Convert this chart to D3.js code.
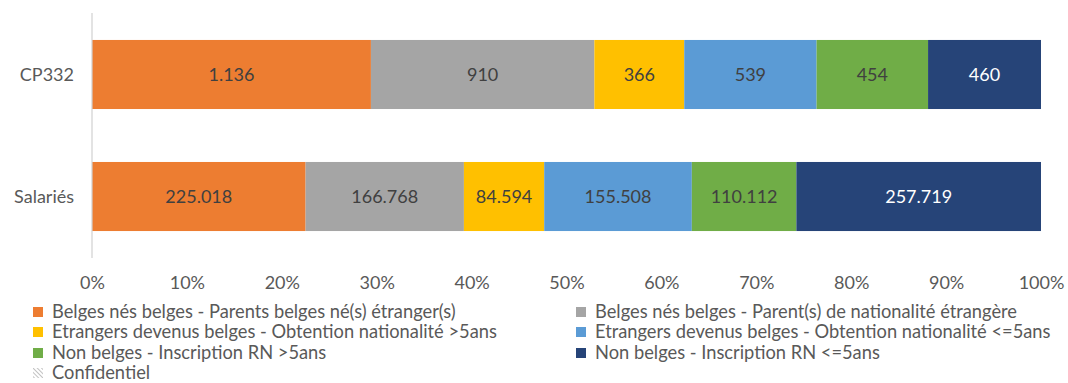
<!DOCTYPE html>
<html>
<head>
<meta charset="utf-8">
<script src="https://cdn.jsdelivr.net/npm/d3@7"></script>
<style>
  body { margin: 0; background: #fff; }
  svg { display: block; font-family: Lato, "Open Sans", sans-serif; }
</style>
</head>
<body>
<svg id="chart" width="1068" height="383"></svg>
<script>
// Categories (top to bottom)
const categories = ["CP332", "Salariés"];

// Series names, in stacking order
const seriesNames = [
  "Belges nés belges - Parents belges né(s) étranger(s)",
  "Belges nés belges - Parent(s) de nationalité étrangère",
  "Etrangers devenus belges - Obtention nationalité >5ans",
  "Etrangers devenus belges - Obtention nationalité <=5ans",
  "Non belges - Inscription RN >5ans",
  "Non belges - Inscription RN <=5ans"
];

// Counts per series, one value per category
const belgesParentsBelges   = [1136, 225018];
const belgesParentsEtranger = [910, 166768];
const etrangersPlus5        = [366, 84594];
const etrangersMoins5       = [539, 155508];
const nonBelgesPlus5        = [454, 110112];
const nonBelgesMoins5       = [460, 257719];

const tickLabels = ["0%", "10%", "20%", "30%", "40%", "50%", "60%", "70%", "80%", "90%", "100%"];
const confidentialLabel = "Confidentiel";

const seriesValues = [belgesParentsBelges, belgesParentsEtranger, etrangersPlus5,
                      etrangersMoins5, nonBelgesPlus5, nonBelgesMoins5];
const colors = ["#ED7D31", "#A5A5A5", "#FFC000", "#5B9BD5", "#70AD47", "#264478"];
const labelColors = ["#404040", "#404040", "#404040", "#404040", "#404040", "#ffffff"];

// Table of shares per category
const rows = categories.map((c, i) => {
  const row = { cat: c };
  const total = d3.sum(seriesValues, s => s[i]);
  seriesNames.forEach((n, j) => { row[n] = seriesValues[j][i] / total; row["raw" + j] = seriesValues[j][i]; });
  return row;
});
const stacked = d3.stack().keys(seriesNames)(rows);

const svg = d3.select("#chart");
const plotLeft = 92, plotRight = 1041, plotTop = 13, plotBottom = 258;
const fontSize = 18;

const x = d3.scaleLinear().domain([0, 1]).range([plotLeft, plotRight]);
const y = d3.scaleBand().domain(categories).range([plotTop, plotBottom])
  .paddingInner(0.434).paddingOuter(0.221);

// Hatch pattern for the confidential entry
const defs = svg.append("defs");
const pat = defs.append("pattern").attr("id", "hatch").attr("patternUnits", "userSpaceOnUse")
  .attr("width", 3).attr("height", 3).attr("patternTransform", "rotate(-45)");
pat.append("line").attr("x1", 0).attr("y1", 0).attr("x2", 0).attr("y2", 3)
  .attr("stroke", "#a0a0a0").attr("stroke-width", 1.3);

// Bars
const layer = svg.append("g").selectAll("g").data(stacked).join("g")
  .attr("fill", (d, i) => colors[i]);
layer.selectAll("rect").data(d => d).join("rect")
  .attr("x", d => x(d[0]))
  .attr("y", d => y(d.data.cat))
  .attr("width", d => x(d[1]) - x(d[0]))
  .attr("height", y.bandwidth());

// Value labels (Belgian thousands separator)
const fmt = d3.formatLocale({ decimal: ",", thousands: ".", grouping: [3], currency: ["", "€"] }).format(",d");
stacked.forEach((s, j) => {
  svg.append("g").selectAll("text").data(s).join("text")
    .attr("x", d => (x(d[0]) + x(d[1])) / 2)
    .attr("y", d => y(d.data.cat) + y.bandwidth() / 2)
    .attr("dy", "0.35em")
    .attr("text-anchor", "middle")
    .attr("font-size", fontSize)
    .attr("fill", labelColors[j])
    .text(d => fmt(d.data["raw" + j]));
});

// Vertical axis line and category labels
svg.append("line").attr("x1", plotLeft).attr("x2", plotLeft)
  .attr("y1", plotTop).attr("y2", plotBottom).attr("stroke", "#d0d0d0").attr("stroke-width", 1.2);
svg.append("g").selectAll("text").data(categories).join("text")
  .attr("x", plotLeft - 18)
  .attr("y", d => y(d) + y.bandwidth() / 2)
  .attr("dy", "0.35em")
  .attr("text-anchor", "end")
  .attr("font-size", fontSize)
  .attr("fill", "#595959")
  .text(d => d);

// Bottom percentage axis
const xAxis = d3.axisBottom(x).tickValues(d3.range(0, 1.0001, 0.1))
  .tickFormat((d, i) => tickLabels[i]).tickSize(0).tickPadding(0);
const ax = svg.append("g").attr("transform", "translate(0,283)").call(xAxis);
ax.select(".domain").remove();
ax.selectAll("text").attr("font-size", fontSize).attr("fill", "#595959")
  .attr("font-family", "Lato, 'Open Sans', sans-serif").attr("dy", "0.35em").attr("y", 0);

// Legend
const legendItems = seriesNames.map((n, i) => ({ name: n, fill: colors[i] }))
  .concat([{ name: confidentialLabel, fill: "url(#hatch)" }]);
const colX = [33, 576];
const rowY = [312, 332, 353, 373];
const lg = svg.append("g").selectAll("g").data(legendItems).join("g")
  .attr("transform", (d, i) => `translate(${colX[i % 2]},${rowY[Math.floor(i / 2)]})`);
lg.append("rect").attr("x", 0).attr("y", -5).attr("width", 10).attr("height", 10)
  .attr("fill", d => d.fill);
lg.append("text").attr("x", 19).attr("dy", "0.35em")
  .attr("font-size", 18.3).attr("fill", "#595959").text(d => d.name);
</script>
</body>
</html>
